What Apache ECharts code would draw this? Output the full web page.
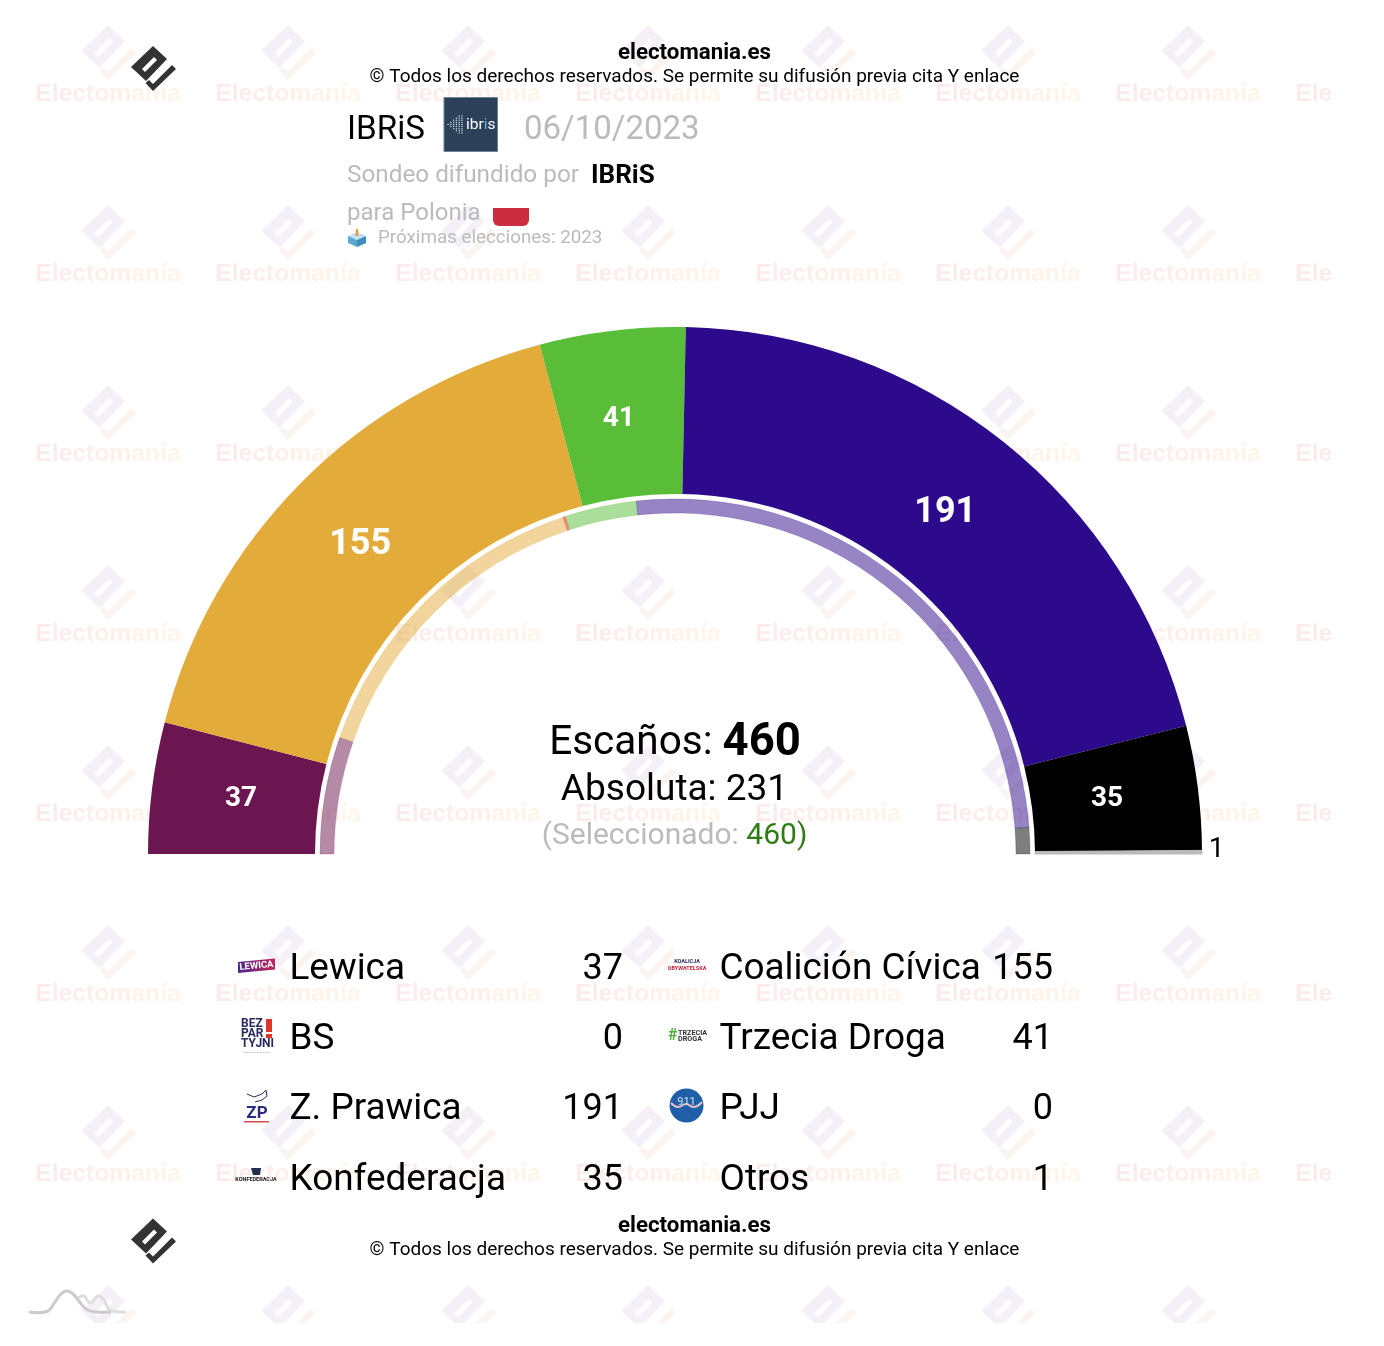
<!DOCTYPE html>
<html><head><meta charset="utf-8">
<style>html,body{margin:0;padding:0;background:#fff}#c{width:1384px;height:1346px}</style>
<script src="https://cdn.jsdelivr.net/npm/echarts@6/dist/echarts.min.js"></script>
</head><body><div id="c"></div>
<script>
var parties = ['Lewica','Coalición Cívica','BS','Trzecia Droga','Z. Prawica','PJJ','Konfederacja','Otros'];
var seats = [37,155,0,41,191,0,35,1];
var partyColors = ['#6B1650','#E3AB3A','#999999','#59BD38','#2D098C','#1F5FA8','#000000','#BBBBBB'];
var prevNames = ['Lewica','Coalición Cívica','MN','Trzecia Droga','Z. Prawica','Konfederacja'];
var prevSeats = [49,134,1,30,235,11];
var prevColors = ['#6B1650','#E3AB3A','#E11B10','#59BD38','#2D098C','#000000'];
var totalSeats = 460, majority = 231, selected = 460;
var pollster = 'IBRiS', pollDate = '06/10/2023', country = 'Polonia', nextElection = '2023';

var F = 'Roboto, sans-serif';
var g = [];
function t0(x,y,text,o){o=o||{};
  g.push({type:'text',silent:true,style:{x:x,y:y,text:text,fontFamily:o.ff||F,fontSize:o.s||20,fontWeight:o.w||'normal',
    fill:o.c||'#000',align:o.a||'left',verticalAlign:'middle',rich:o.rich},rotation:o.r||0,originX:x,originY:y});}
function t(x,y,text,o){t0(x,y+2.5,text,o);}
function poly(pts,fill){g.push({type:'polygon',silent:true,shape:{points:pts},style:{fill:fill}});}
function logo(cx,cy,k,cBody,cCheck,cHole){
  function P(a){return a.map(function(p){return [cx+p[0]*k,cy+p[1]*k];});}
  poly(P([[0,-22],[14,-9],[-7,13],[-22,-1]]),cBody);
  poly(P([[-11,1],[1,-11],[4,-8],[-8,4]]),cHole);
  poly(P([[19,-3],[23,1],[0,23],[-7.5,15],[-4,12],[0,16]]),cCheck);
}
// watermark
var wmX=[108,288,468,648,828,1008,1188,1368], wmY=[53,233,413,593,773,953,1133,1313];
var wmRich={};
['#FBECEC','#FCEEEB','#FDF0EA','#FEF3E9','#FFF5E9'].forEach(function(c,i){wmRich['w'+i]={fill:c,fontSize:24.7,fontWeight:'bold',fontFamily:'"Liberation Sans",sans-serif'};});
wmY.forEach(function(y){wmX.forEach(function(x){
  if(x<1300) logo(x,y-1,1.22,'#F5F0F8','#FBF4F0','#FFFFFF');
  if(y<1300) g.push({type:'text',silent:true,style:{x:x,y:y+41,text:'{w0|Ele}{w1|ct}{w2|om}{w3|an}{w4|ía}',align:'center',verticalAlign:'middle',rich:wmRich}});
});});
g.push({type:'rect',silent:true,shape:{x:1332,y:0,width:52,height:1346},style:{fill:'#fff'}});
g.push({type:'rect',silent:true,shape:{x:0,y:1323,width:1384,height:23},style:{fill:'#fff'}});
// brand logos
logo(153,68,1,'#333','#333','#fff');
logo(153,1240.5,1,'#333','#333','#fff');
function footer(y){
  t(694.5,y,'electomania.es',{s:22.3,w:'bold',a:'center'});
  t(694.5,y+23,'© Todos los derechos reservados. Se permite su difusión previa cita Y enlace',{s:19,a:'center'});
}
footer(51.3);footer(1224.3);
// header
t(347,128,pollster,{s:33.2});
g.push({type:'rect',silent:true,shape:{x:444,y:97.5,width:53.5,height:54},style:{fill:'#2C4159',stroke:'#6E8091',lineWidth:1}});
[1,3,5,7,9,9].forEach(function(n,c){for(var i=0;i<n;i++){
  g.push({type:'circle',silent:true,shape:{cx:448+c*2.8,cy:124.5+(i-(n-1)/2)*2.1,r:0.75},style:{fill:'#CBD6E0'}});}});
t0(466,125,'{a|ibr}{b|i}{a|s}',{s:15.5,rich:{a:{fill:'#fff',fontSize:15.5,fontFamily:F},b:{fill:'#5FB4E0',fontSize:15.5,fontFamily:F}}});
t(524,128,pollDate,{s:33,c:'#BBBBBB'});
t(347,173,'Sondeo difundido por',{s:24.3,c:'#BBBBBB'});
t(591,173.5,pollster,{s:26,w:'bold'});
t(347,211,'para '+country,{s:24,c:'#BBBBBB'});
g.push({type:'rect',silent:true,shape:{x:493,y:208,width:36,height:18,r:[0,0,6,6]},style:{fill:'#CB2E40'}});
// ballot icon
poly([[357,232],[366,236],[357,240],[348,236]],'#BFE3F2');
poly([[348,236],[357,240],[357,247],[348,243]],'#5BA8D0');
poly([[366,236],[357,240],[357,247],[366,243]],'#3E8DBC');
poly([[356,229],[358,229],[358.5,236],[355.5,236]],'#E89B3C');
t(378,236,'Próximas elecciones: '+nextElection,{s:18.8,c:'#BBBBBB'});
// centre text
t(675,741,'{a|Escaños: }{b|'+totalSeats+'}',{a:'center',rich:{a:{fontSize:40.5,fontFamily:F,fill:'#000'},b:{fontSize:45.5,fontWeight:'bold',fontFamily:F,fill:'#000'}}});
t(674.5,788,'Absoluta: '+majority,{s:37,a:'center'});
t(674.5,834,'{a|(Seleccionado: }{b|'+selected+')}',{a:'center',rich:{a:{fontSize:30,fontFamily:F,fill:'#BBBBBB'},b:{fontSize:30,fontFamily:F,fill:'#2E7D14'}}});
// table
var rowY=[967,1037,1107,1178], colName=[289.5,719.5], colVal=[623,1053];
parties.forEach(function(n,i){
  var c=i%2, r=Math.floor(i/2);
  t(colName[c],rowY[r],n,{s:36.9});
  t(colVal[c],rowY[r],String(seats[i]),{s:36,a:'right'});
});
// party logos
g.push({type:'polygon',silent:true,shape:{points:[[238,962],[275,958.5],[275,969.5],[238,973]]},style:{fill:new echarts.graphic.LinearGradient(0,0,1,0,[{offset:0,color:'#4A2A8C'},{offset:1,color:'#C4215A'}])}});
t0(256.5,966,'LEWICA',{s:9.5,w:'bold',c:'#fff',a:'center',r:0.09});
t0(687,962,'KOALICJA',{s:5.5,w:'bold',c:'#2A2A60',a:'center'});
t0(687,969,'OBYWATELSKA',{s:5.5,w:'bold',c:'#C4243C',a:'center'});
t0(241,1024,'BEZ',{s:12,w:'bold',c:'#2A2A60'});
t0(241,1034,'PAR',{s:12,w:'bold',c:'#2A2A60'});
t0(241,1044,'TYJNI',{s:12,w:'bold',c:'#2A2A60'});
g.push({type:'rect',silent:true,shape:{x:266,y:1019,width:6,height:13},style:{fill:'#E0352B'}});
g.push({type:'rect',silent:true,shape:{x:266,y:1034,width:6,height:4},style:{fill:'#E0352B'}});
t0(256.5,1051,'..................',{s:6,c:'#2A2A60',a:'center'});
t0(668,1036,'#',{s:16,w:'bold',c:'#4FAE3C'});
t0(678,1033,'TRZECIA',{s:7.2,w:'bold',c:'#333'});
t0(678,1039,'DROGA',{s:7.2,w:'bold',c:'#333'});
g.push({type:'polyline',silent:true,shape:{points:[[247,1094],[254,1097],[262,1094],[266,1090],[267,1096],[262,1100],[255,1102]]},style:{stroke:'#2A2A60',fill:'none',lineWidth:1}});
t0(257,1114,'ZP',{s:17,w:'bold',c:'#2A2A80',a:'center'});
g.push({type:'rect',silent:true,shape:{x:244,y:1121,width:25,height:1.5},style:{fill:'#D84A50'}});
g.push({type:'circle',silent:true,shape:{cx:686.5,cy:1105.5,r:17},style:{fill:'#1F5FA8'}});
g.push({type:'polyline',silent:true,shape:{points:[[671,1103],[678,1107],[686,1104],[694,1107],[702,1102]],smooth:0.5},style:{stroke:'#E8C0C8',fill:'none',lineWidth:2}});
t0(686.5,1102,'911',{s:11,c:'#CFE0F0',a:'center'});
poly([[251,1168],[261,1168],[260,1175],[253,1175]],'#1F3050');
t0(256,1180,'KONFEDERACJA',{s:5.5,w:'bold',c:'#222',a:'center'});
// small wave mark
function wave(pts,c,w){g.push({type:'polyline',silent:true,shape:{points:pts,smooth:0.35},style:{stroke:c,fill:'none',lineWidth:w}});}
wave([[78,1298],[84,1296],[90,1303],[98,1296],[104,1300],[110,1310],[126,1312]],'#DEDEDE',3);
wave([[29,1312],[47,1311.5],[55,1302],[60,1295],[66,1291],[72,1293],[78,1300],[86,1309],[96,1312],[111,1312]],'#CBCBCB',3);

// pie data
var outer = parties.map(function(n,i){
  var d={name:n,value:seats[i],itemStyle:{color:partyColors[i]}};
  if(seats[i]===0) d.label={show:false};
  return d;
});
var labelTweaks={Lewica:{s:28,o:[9,1]},'Coalición Cívica':{s:36,o:[2,6]},'Trzecia Droga':{s:28,o:[-3,8]},'Z. Prawica':{s:36,o:[-8,8]},Konfederacja:{s:28,o:[-11,1]}};
outer.forEach(function(d){var lt=labelTweaks[d.name]; if(lt) d.label={fontSize:lt.s,offset:lt.o};
  if(d.name==='Otros'){d.label={color:'#000',fontWeight:'normal',fontSize:28,offset:[95,-2]}; d.itemStyle.borderColor='#BBBBBB'; d.itemStyle.borderWidth=1;}});
var inner = prevNames.map(function(n,i){return {name:n,value:prevSeats[i],itemStyle:{color:prevColors[i],borderColor:prevColors[i]}};});

var chart = echarts.init(document.getElementById('c'),null,{renderer:'canvas'});
chart.setOption({
  animation:false,backgroundColor:'#fff',
  graphic:{elements:g},
  series:[
    {type:'pie',name:'Escaños',center:[675,854],radius:[360,527],startAngle:180,endAngle:0,clockwise:true,silent:true,
     avoidLabelOverlap:false,labelLine:{show:false},
     label:{show:true,position:'inside',formatter:'{c}',color:'#fff',fontFamily:F,fontWeight:'bold',fontSize:28},
     data:outer},
    {type:'pie',name:'Anterior',center:[675,854],radius:[341,355],startAngle:180,endAngle:0,clockwise:true,silent:true,
     label:{show:false},labelLine:{show:false},
     itemStyle:{opacity:0.5,borderWidth:0.4},
     data:inner}
  ]
});
</script></body></html>
